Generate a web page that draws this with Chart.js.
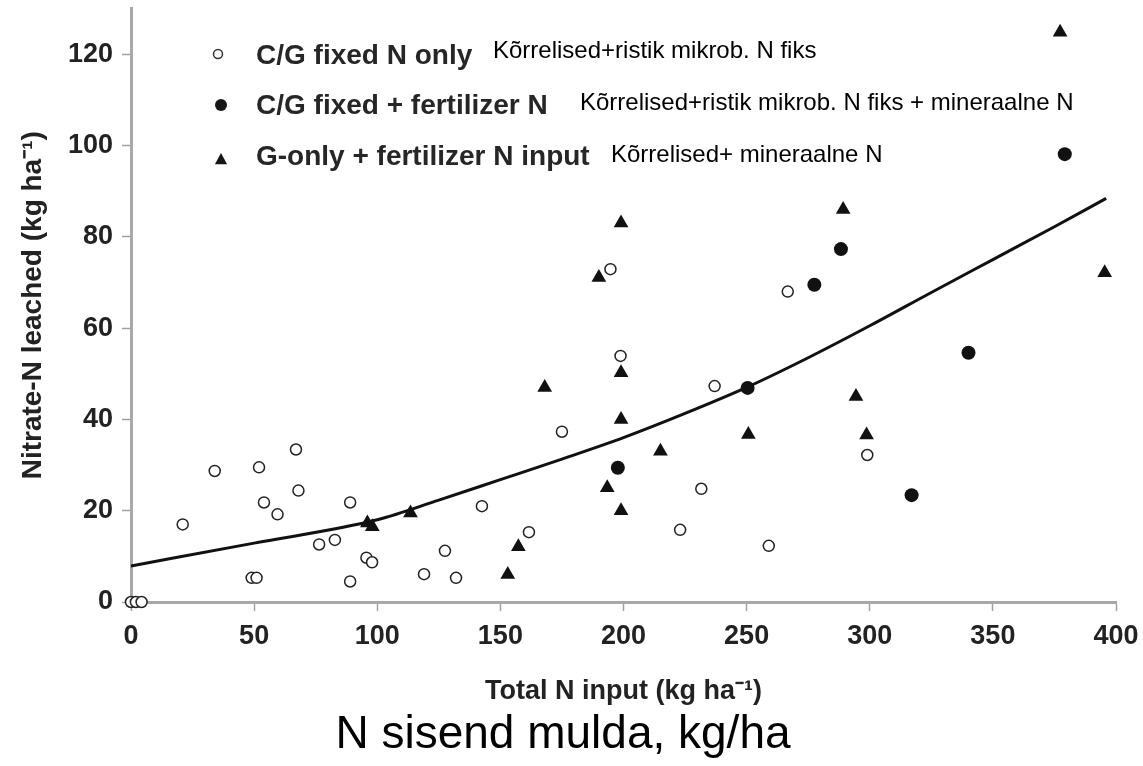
<!DOCTYPE html>
<html>
<head>
<meta charset="utf-8">
<script src="https://cdn.jsdelivr.net/npm/chart.js@4.4.1/dist/chart.umd.min.js"></script>
<style>
  html, body { margin: 0; padding: 0; background: #fff; }
  #wrap { width: 1143px; height: 766px; position: relative; }
</style>
</head>
<body>
<div id="wrap"><canvas id="nChart"></canvas></div>
<script>
// values (total N input vs nitrate-N leached)

// C/G fixed N only (open circles)
const openX = [0, 2, 4.3, 21, 34, 49, 51, 52, 54, 59.5, 67, 68, 76.4, 82.8, 89, 89, 95.6, 97.9,
  119, 127.5, 132, 142.5, 161.6, 175, 194.7, 198.8, 223, 231.6, 237, 259, 266.7, 299];
const openY = [0, 0, 0, 17, 28.7, 5.3, 5.3, 29.5, 21.8, 19.2, 33.4, 24.4, 12.6, 13.6, 21.8, 4.5, 9.7, 8.7,
  6.1, 11.2, 5.3, 21, 15.3, 37.3, 72.9, 53.9, 15.8, 24.8, 47.3, 12.3, 68, 32.2];

// C/G fixed + fertilizer N (filled circles)
const fertX = [197.7, 250.4, 277.5, 288.3, 317, 340.1, 379.2];
const fertY = [29.4, 46.9, 69.5, 77.3, 23.4, 54.6, 98.1];

// G-only + fertilizer N input (triangles)
const grassX = [96, 98, 113.5, 153, 157.3, 168, 190, 193.4, 199, 199, 199, 199, 215, 250.7, 289.2, 294.4, 298.7, 377.3, 395.4];
const grassY = [17.3, 16.5, 19.5, 6, 12.1, 47, 71.1, 25, 83, 50.2, 40, 20, 33, 36.7, 86, 45, 36.6, 124.8, 72.1];

// fitted curve as it appears in the figure
const curveX = [0, 50, 100, 125, 150, 175, 200, 225, 250, 275, 300, 325, 350, 375, 396];
const curveY = [7.9, 12.9, 18.0, 22.3, 26.8, 31.3, 36.0, 41.3, 47.0, 53.5, 60.5, 67.8, 75.0, 82.2, 88.4];

const xTicks = [0, 50, 100, 150, 200, 250, 300, 350, 400];
const yTicks = [0, 20, 40, 60, 80, 100, 120];

const seriesNames = ["C/G fixed N only", "C/G fixed + fertilizer N", "G-only + fertilizer N input"];
const seriesNotes = ["Kõrrelised+ristik mikrob. N fiks", "Kõrrelised+ristik mikrob. N fiks + mineraalne N", "Kõrrelised+ mineraalne N"];

const FONT = "'Liberation Sans', Arial, Helvetica, sans-serif";
Chart.defaults.font.family = FONT;

function pts(xs, ys) {
  return xs.map((x, i) => ({ x: x, y: ys[i] }));
}

function drawMarker(ctx, kind, x, y, r) {
  ctx.beginPath();
  if (kind === "triangle") {
    ctx.moveTo(x, y - r);
    ctx.lineTo(x + r * 0.87, y + r * 0.6);
    ctx.lineTo(x - r * 0.87, y + r * 0.6);
    ctx.closePath();
  } else {
    ctx.arc(x, y, r, 0, Math.PI * 2);
  }
  if (kind === "open") {
    ctx.fillStyle = "#fff";
    ctx.fill();
    ctx.lineWidth = 1.5;
    ctx.strokeStyle = "#333";
    ctx.stroke();
  } else {
    ctx.fillStyle = "#161616";
    ctx.fill();
  }
}

// legend in the upper left + estonian caption under the x title
const extraText = {
  id: "extraText",
  afterDraw(chart) {
    const ctx = chart.ctx;
    ctx.save();
    const kinds = ["open", "filled", "triangle"];
    const markX = [218, 221, 221];
    const markY = [54, 105, 160];
    const markR = [4.5, 6, 7];
    const baseY = [63.5, 114, 165];
    const noteX = [493, 580, 611];
    const noteY = [57.5, 110, 161.5];
    for (let i = 0; i < 3; i++) {
      drawMarker(ctx, kinds[i], markX[i], markY[i], markR[i]);
      ctx.textAlign = "left";
      ctx.textBaseline = "alphabetic";
      ctx.fillStyle = "#262626";
      ctx.font = "bold 28px " + FONT;
      ctx.fillText(seriesNames[i], 256, baseY[i]);
      ctx.fillStyle = "#000";
      ctx.font = "24px " + FONT;
      ctx.fillText(seriesNotes[i], noteX[i], noteY[i]);
    }
    ctx.fillStyle = "#000";
    ctx.font = "46px " + FONT;
    ctx.textAlign = "center";
    ctx.fillText("N sisend mulda, kg/ha", 563, 748);
    ctx.restore();
  }
};

const ctx = document.getElementById("nChart").getContext("2d");

new Chart(ctx, {
  type: "scatter",
  data: {
    datasets: [
      {
        label: seriesNames[0],
        data: pts(openX, openY),
        pointStyle: "circle",
        pointRadius: 5.5,
        pointBackgroundColor: "#fff",
        pointBorderColor: "#222",
        pointBorderWidth: 1.5,
        clip: false
      },
      {
        label: seriesNames[1],
        data: pts(fertX, fertY),
        pointStyle: "circle",
        pointRadius: 7,
        pointBackgroundColor: "#111",
        pointBorderWidth: 0,
        clip: false
      },
      {
        label: seriesNames[2],
        data: pts(grassX, grassY),
        pointStyle: "triangle",
        pointRadius: 8.5,
        pointBackgroundColor: "#111",
        pointBorderWidth: 0,
        clip: false
      },
      {
        label: "fit",
        data: pts(curveX, curveY),
        showLine: true,
        pointRadius: 0,
        borderColor: "#111",
        borderWidth: 3,
        cubicInterpolationMode: "monotone",
        fill: false,
        clip: false
      }
    ]
  },
  options: {
    responsive: true,
    maintainAspectRatio: false,
    animation: false,
    events: [],
    layout: { padding: { top: 8, right: 27, left: 0, bottom: 0 } },
    plugins: {
      legend: { display: false },
      tooltip: { enabled: false }
    },
    scales: {
      x: {
        type: "linear",
        min: 0,
        max: 400,
        afterFit: function (s) {
          s.height = 164;
          s.paddingLeft = 0;
          s.paddingRight = 0;
        },
        afterBuildTicks: function (s) { s.ticks = xTicks.map(v => ({ value: v })); },
        grid: { drawOnChartArea: false, drawTicks: true, tickLength: 9, tickColor: "#a0a0a0", tickWidth: 1.5 },
        border: { color: "#a8a8a8", width: 3 },
        ticks: {
          padding: 9,
          color: "#222",
          maxRotation: 0,
          autoSkip: false,
          font: { size: 27, weight: "bold" }
        },
        title: {
          display: true,
          text: "Total N input (kg ha⁻¹)",
          color: "#222",
          font: { size: 27, weight: "bold" },
          padding: { top: 0, bottom: 58 }
        }
      },
      y: {
        type: "linear",
        min: 0,
        max: 130,
        afterFit: function (s) {
          s.width = 131;
          s.paddingTop = 0;
          s.paddingBottom = 0;
        },
        afterBuildTicks: function (s) { s.ticks = yTicks.map(v => ({ value: v })); },
        grid: { drawOnChartArea: false, drawTicks: true, tickLength: 9, tickColor: "#a0a0a0", tickWidth: 1.5 },
        border: { color: "#a8a8a8", width: 3 },
        ticks: {
          padding: 9,
          color: "#222",
          font: { size: 27, weight: "bold" }
        },
        title: {
          display: true,
          text: "Nitrate-N leached (kg ha⁻¹)",
          color: "#222",
          font: { size: 28, weight: "bold" },
          padding: { top: 16, bottom: 0 }
        }
      }
    }
  },
  plugins: [extraText]
});
</script>
</body>
</html>
